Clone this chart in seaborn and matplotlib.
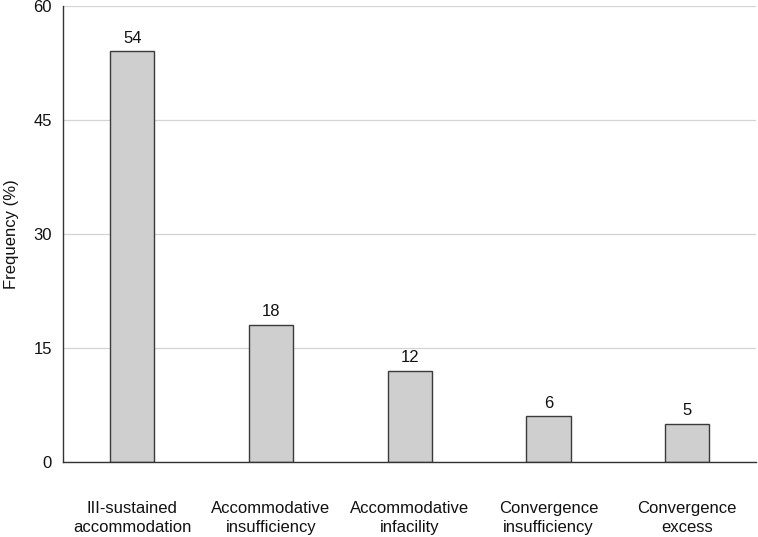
import matplotlib
matplotlib.use('Agg')
import matplotlib.pyplot as plt
import seaborn as sns
import pandas as pd

categories = ['III-sustained\naccommodation', 'Accommodative\ninsufficiency',
              'Accommodative\ninfacility', 'Convergence\ninsufficiency',
              'Convergence\nexcess']
frequency = [54, 18, 12, 6, 5]
yticks = [0, 15, 30, 45, 60]

df = pd.DataFrame({'category': categories, 'frequency': frequency})

sns.set_style('white')
plt.rcParams['font.family'] = ['Liberation Sans', 'DejaVu Sans']

fig = plt.figure(figsize=(7.58, 5.37), dpi=100)
ax = fig.add_axes([0.083, 0.14, 0.915, 0.849])

ax.yaxis.grid(True, color='#d4d4d4', linewidth=0.9)
ax.set_axisbelow(True)

sns.barplot(data=df, x='category', y='frequency', ax=ax, color='#cfcfcf',
            edgecolor='#3a3a3a', linewidth=1.0, width=0.32, saturation=1)

for container in ax.containers:
    ax.bar_label(container, fmt='%d', padding=4, fontsize=12, color='#111111')

ax.set_ylim(0, 60)
ax.set_yticks(yticks)
ax.set_xlim(-0.5, 4.5)
ax.set_xlabel('')
ax.set_ylabel('Frequency (%)', fontsize=12, color='#111111', labelpad=10)
ax.tick_params(axis='both', labelsize=12, colors='#111111', length=0, pad=8)
ax.tick_params(axis='x', pad=28)
for lbl in ax.get_xticklabels():
    lbl.set_linespacing(1.35)

sns.despine(ax=ax, top=True, right=True)
ax.spines['left'].set_color('#333333')
ax.spines['bottom'].set_color('#333333')
ax.spines['left'].set_linewidth(1.0)
ax.spines['bottom'].set_linewidth(1.0)

fig.savefig('out.png', dpi=100)
